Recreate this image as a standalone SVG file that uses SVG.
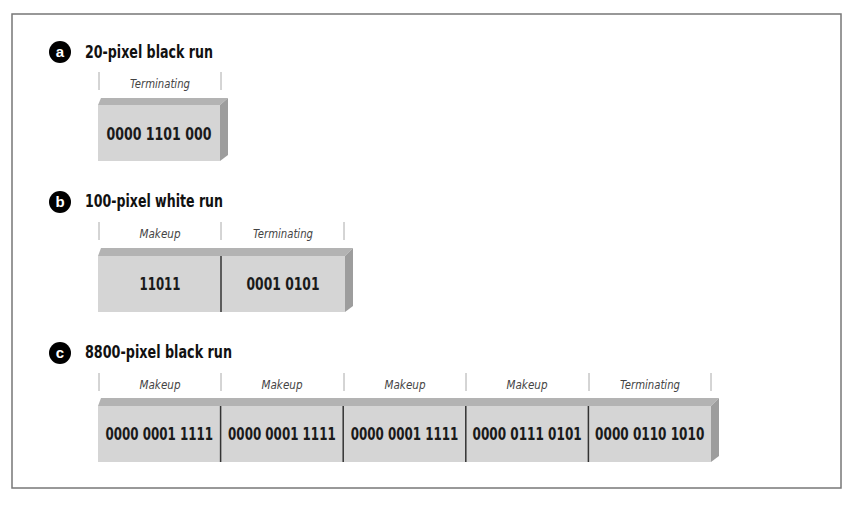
<svg xmlns="http://www.w3.org/2000/svg" width="866" height="508" viewBox="0 0 866 508">
<style>
.bg{fill:#fff}
.frame{fill:#fff;stroke:#777;stroke-width:1.5}
.front{fill:#d5d5d5}
.top{fill:#b3b3b3}
.side{fill:#9d9d9d}
.div{stroke:#333;stroke-width:1.5}
.tick{stroke:#aaa;stroke-width:1}
.title{font-family:"Liberation Sans Narrow","DejaVu Sans Condensed","Liberation Sans",sans-serif;font-weight:bold;font-size:18px;fill:#111}
.num{font-family:"Liberation Sans Narrow","DejaVu Sans Condensed","Liberation Sans",sans-serif;font-weight:bold;font-size:17px;fill:#1a1a1a;text-anchor:middle}
.lbl{font-family:"Liberation Sans Narrow","DejaVu Sans Condensed","Liberation Sans",sans-serif;font-style:italic;font-size:12px;fill:#444;text-anchor:middle}
.badge{fill:#000}
.badgetxt{font-family:"Liberation Sans","DejaVu Sans",sans-serif;font-weight:bold;font-size:15px;fill:#fff;text-anchor:middle}
</style>
<rect class="bg" x="0" y="0" width="866" height="508"/>
<rect class="frame" x="12" y="14" width="829" height="474"/>

<g id="section-a">
  <circle class="badge" cx="60" cy="52" r="11"/>
  <text class="badgetxt" x="60" y="57">a</text>
  <text class="title" x="85" y="58" textLength="128" lengthAdjust="spacingAndGlyphs">20-pixel black run</text>
  <line class="tick" x1="99" y1="72" x2="99" y2="90"/>
  <line class="tick" x1="221" y1="72" x2="221" y2="90"/>
  <text class="lbl" x="160" y="88" textLength="60" lengthAdjust="spacingAndGlyphs">Terminating</text>
  <g id="box-a">
    <polygon class="top" points="98,105 101,98 228,98 220,105"/>
    <polygon class="side" points="220,105 228,98 228,155 220,161"/>
    <rect class="front" x="98" y="105" width="122" height="56"/>
    <text class="num" x="159" y="140" textLength="105" lengthAdjust="spacingAndGlyphs">0000 1101 000</text>
  </g>
</g>

<g id="section-b">
  <circle class="badge" cx="60" cy="202" r="11"/>
  <text class="badgetxt" x="60" y="207">b</text>
  <text class="title" x="85" y="207" textLength="138" lengthAdjust="spacingAndGlyphs">100-pixel white run</text>
  <line class="tick" x1="99" y1="222" x2="99" y2="240"/>
  <line class="tick" x1="221" y1="222" x2="221" y2="240"/>
  <line class="tick" x1="344" y1="222" x2="344" y2="240"/>
  <text class="lbl" x="160" y="238" textLength="41" lengthAdjust="spacingAndGlyphs">Makeup</text>
  <text class="lbl" x="283" y="238" textLength="60" lengthAdjust="spacingAndGlyphs">Terminating</text>
  <g id="box-b">
    <polygon class="top" points="98,256 101,248 353,248 345,256"/>
    <polygon class="side" points="345,256 353,248 353,306 345,312"/>
    <rect class="front" x="98" y="256" width="247" height="56"/>
    <line class="div" x1="221" y1="256" x2="221" y2="312"/>
    <text class="num" x="160" y="290" textLength="41" lengthAdjust="spacingAndGlyphs">11011</text>
    <text class="num" x="283" y="290" textLength="73" lengthAdjust="spacingAndGlyphs">0001 0101</text>
  </g>
</g>

<g id="section-c">
  <circle class="badge" cx="60" cy="353" r="11"/>
  <text class="badgetxt" x="60" y="358">c</text>
  <text class="title" x="85" y="358" textLength="147" lengthAdjust="spacingAndGlyphs">8800-pixel black run</text>
  <line class="tick" x1="99" y1="373" x2="99" y2="391"/>
  <line class="tick" x1="221" y1="373" x2="221" y2="391"/>
  <line class="tick" x1="344" y1="373" x2="344" y2="391"/>
  <line class="tick" x1="466" y1="373" x2="466" y2="391"/>
  <line class="tick" x1="589" y1="373" x2="589" y2="391"/>
  <line class="tick" x1="711" y1="373" x2="711" y2="391"/>
  <text class="lbl" x="160" y="389" textLength="41" lengthAdjust="spacingAndGlyphs">Makeup</text>
  <text class="lbl" x="282" y="389" textLength="41" lengthAdjust="spacingAndGlyphs">Makeup</text>
  <text class="lbl" x="405" y="389" textLength="41" lengthAdjust="spacingAndGlyphs">Makeup</text>
  <text class="lbl" x="527" y="389" textLength="41" lengthAdjust="spacingAndGlyphs">Makeup</text>
  <text class="lbl" x="650" y="389" textLength="60" lengthAdjust="spacingAndGlyphs">Terminating</text>
  <g id="box-c">
    <polygon class="top" points="98,406 101,398 719,398 711,406"/>
    <polygon class="side" points="711,406 719,398 719,456 711,462"/>
    <rect class="front" x="98" y="406" width="613" height="56"/>
    <line class="div" x1="220.6" y1="406" x2="220.6" y2="462"/>
    <line class="div" x1="343.2" y1="406" x2="343.2" y2="462"/>
    <line class="div" x1="465.8" y1="406" x2="465.8" y2="462"/>
    <line class="div" x1="588.4" y1="406" x2="588.4" y2="462"/>
    <text class="num" transform="translate(159.3,440) scale(0.78,1)" x="0" y="0" textLength="138" lengthAdjust="spacingAndGlyphs">0000 0001 1111</text>
    <text class="num" transform="translate(281.9,440) scale(0.78,1)" x="0" y="0" textLength="138" lengthAdjust="spacingAndGlyphs">0000 0001 1111</text>
    <text class="num" transform="translate(404.5,440) scale(0.78,1)" x="0" y="0" textLength="138" lengthAdjust="spacingAndGlyphs">0000 0001 1111</text>
    <text class="num" transform="translate(527.1,440) scale(0.78,1)" x="0" y="0" textLength="140" lengthAdjust="spacingAndGlyphs">0000 0111 0101</text>
    <text class="num" transform="translate(649.7,440) scale(0.78,1)" x="0" y="0" textLength="140" lengthAdjust="spacingAndGlyphs">0000 0110 1010</text>
  </g>
</g>
</svg>
